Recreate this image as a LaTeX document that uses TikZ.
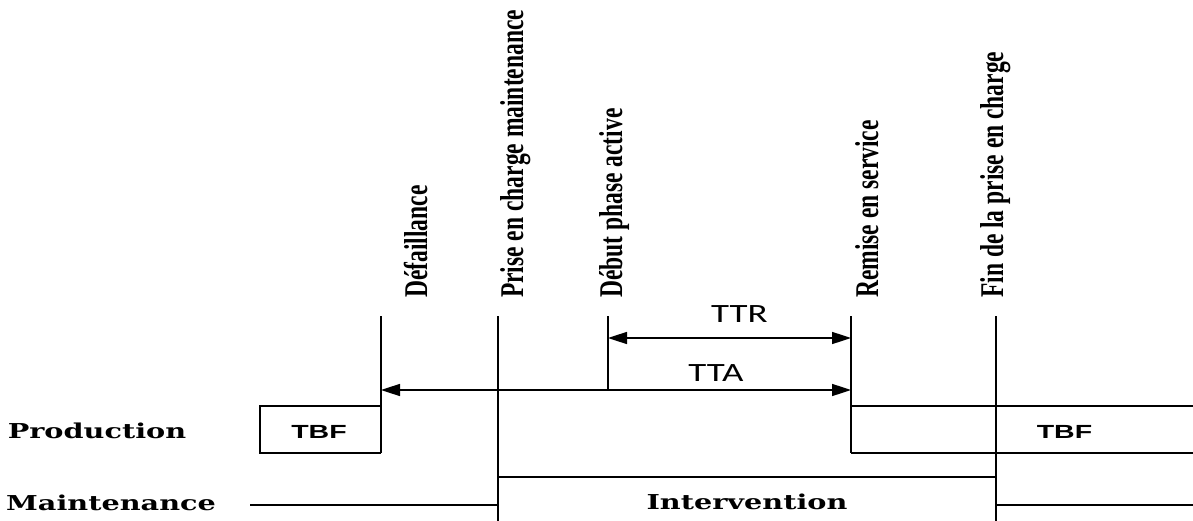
\documentclass[tikz,border=0pt]{standalone}
\usepackage{fontspec}
\setmainfont{Liberation Serif}
\newfontfamily\wideserif{DejaVu Serif}
\newfontfamily\calibrif{Carlito}
\newfontfamily\arialf{Liberation Sans}
\usetikzlibrary{arrows.meta, positioning}
% the source image is stretched sideways
\newcommand{\hstr}[1]{\scalebox{1.4}[1]{#1}}
\newcommand{\vstr}[1]{\scalebox{1}[1.41]{#1}}

\begin{document}
\begin{tikzpicture}[x=1pt, y=-1pt,
    event/.style={rotate=90, anchor=base west, inner sep=0pt, font=\bfseries\fontsize{23.5}{28}\selectfont},
    rowlbl/.style={anchor=base, inner sep=0pt, font=\wideserif\bfseries\fontsize{20.5}{24}\selectfont},
    dur/.style={anchor=base, inner sep=0pt, font=\calibrif\fontsize{26.4}{30}\selectfont},
    state/.style={anchor=base, inner sep=0pt, font=\arialf\bfseries\fontsize{19}{23}\selectfont},
    line/.style={draw, line width=1.6pt},
    span/.style={draw, line width=1.6pt, {Triangle[length=19pt,width=12pt]}-{Triangle[length=19pt,width=12pt]}}]

    \useasboundingbox (0,0) rectangle (1193,521);

    % event instants
    \coordinate (def top) at (381,316);
    \coordinate (def bot) at (381,453);
    \coordinate (pec top) at (498,316);
    \coordinate (pec bot) at (498,521);
    \coordinate (act top) at (608,316);
    \coordinate (act bot) at (608,390);
    \coordinate (rem top) at (851,316);
    \coordinate (rem bot) at (851,453);
    \coordinate (fin top) at (996,316);
    \coordinate (fin bot) at (996,521);

    \node [event] (l_def) at (427,298) {\vstr{Défaillance}};
    \node [event] (l_pec) at (523,298) {\vstr{Prise en charge maintenance}};
    \node [event] (l_act) at (622,298) {\vstr{Début phase active}};
    \node [event] (l_rem) at (878,298) {\vstr{Remise en service}};
    \node [event] (l_fin) at (1003,298) {\vstr{Fin de la prise en charge}};

    \path [line] (def top) -- (def bot);
    \path [line] (pec top) -- (pec bot);
    \path [line] (act top) -- (act bot);
    \path [line] (rem top) -- (rem bot);
    \path [line] (fin top) -- (fin bot);

    % durations
    \coordinate (ttr a) at (608,338);
    \coordinate (ttr b) at (851,338);
    \coordinate (tta a) at (381,390);
    \coordinate (tta b) at (851,390);
    \path [span] (ttr a) -- (ttr b);
    \path [span] (tta a) -- (tta b);
    \node [dur] (ttr) at (739.5,322) {\hstr{TTR}};
    \node [dur] (tta) at (716,381) {\hstr{TTA}};

    % production row
    \node [rowlbl] (prod) at (97,438) {\hstr{Production}};
    \coordinate (tbf1 nw) at (260,406);
    \coordinate (tbf1 sw) at (260,453);
    \coordinate (tbf1 ne) at (381,406);
    \path [line] (def bot) -- (tbf1 sw) -- (tbf1 nw) -- (tbf1 ne);
    \node [state] (tbf1) at (319,438.5) {\scalebox{1.5}[1]{TBF}};
    \coordinate (tbf2 ne) at (1193,406);
    \coordinate (tbf2 se) at (1193,453);
    \coordinate (tbf2 nw) at (851,406);
    \path [line] (tbf2 nw) -- (tbf2 ne);
    \path [line] (rem bot) -- (tbf2 se);
    \node [state] (tbf2) at (1064.5,438.5) {\scalebox{1.5}[1]{TBF}};

    % maintenance row
    \node [rowlbl] (maint) at (111,510) {\hstr{Maintenance}};
    \coordinate (m left) at (250,505);
    \coordinate (m pec) at (498,505);
    \coordinate (int a) at (498,477);
    \coordinate (int b) at (996,477);
    \coordinate (m fin) at (996,505);
    \coordinate (m right) at (1193,505);
    \path [line] (m left) -- (m pec);
    \path [line] (int a) -- (int b);
    \path [line] (m fin) -- (m right);
    \node [rowlbl] (interv) at (747,509) {\hstr{Intervention}};
\end{tikzpicture}
\end{document}
